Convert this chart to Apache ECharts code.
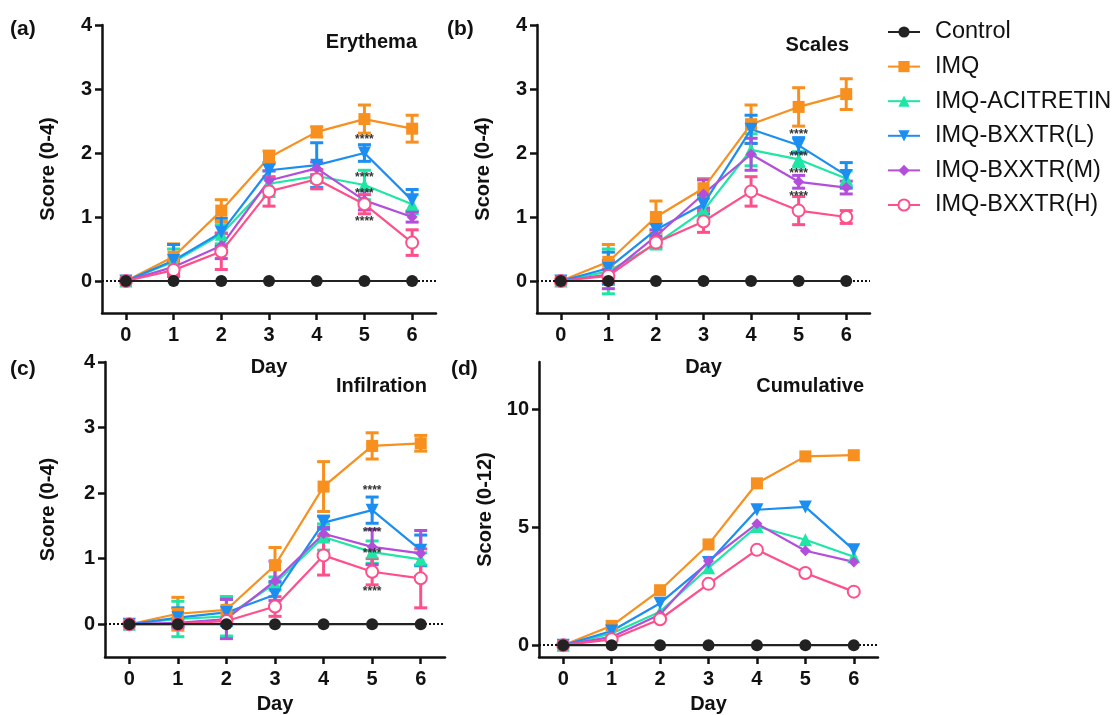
<!DOCTYPE html>
<html>
<head>
<meta charset="utf-8">
<script src="https://cdn.jsdelivr.net/npm/echarts@6/dist/echarts.min.js"></script>
<style>html,body{margin:0;padding:0;background:#fff;}#c{width:1117px;height:715px;}</style>
</head>
<body>
<div id="c"></div>
<script>
// ---------- DATA ----------
const days = [0, 1, 2, 3, 4, 5, 6];
const groups = ['Control', 'IMQ', 'IMQ-ACITRETIN', 'IMQ-BXXTR(L)', 'IMQ-BXXTR(M)', 'IMQ-BXXTR(H)'];

// order of rows: Control, IMQ, ACITRETIN, BXXTR(L), BXXTR(M), BXXTR(H)
const erythemaMean = [
  [0, 0, 0, 0, 0, 0, 0],
  [0, 0.38, 1.10, 1.93, 2.33, 2.53, 2.38],
  [0, 0.30, 0.73, 1.52, 1.64, 1.50, 1.20],
  [0, 0.32, 0.76, 1.73, 1.81, 2.00, 1.26],
  [0, 0.22, 0.55, 1.57, 1.76, 1.26, 1.00],
  [0, 0.17, 0.46, 1.40, 1.59, 1.20, 0.60]
];
const erythemaErr = [
  [0, 0, 0, 0, 0, 0, 0],
  [0, 0.20, 0.17, 0.10, 0.08, 0.22, 0.21],
  [0, 0.20, 0.15, 0.20, 0.10, 0.23, 0.15],
  [0, 0.25, 0.22, 0.12, 0.35, 0.13, 0.17],
  [0, 0.10, 0.20, 0.15, 0.10, 0.15, 0.08],
  [0, 0.10, 0.28, 0.23, 0.15, 0.15, 0.20]
];
const erythemaStars = [2.21, 1.62, 1.36, 0.93];

const scalesMean = [
  [0, 0, 0, 0, 0, 0, 0],
  [0, 0.30, 1.00, 1.45, 2.45, 2.72, 2.92],
  [0, 0.15, 0.58, 1.10, 2.05, 1.90, 1.60],
  [0, 0.20, 0.80, 1.20, 2.37, 2.12, 1.65],
  [0, 0.10, 0.70, 1.36, 1.98, 1.55, 1.46],
  [0, 0.08, 0.60, 0.93, 1.40, 1.10, 1.00]
];
const scalesErr = [
  [0, 0, 0, 0, 0, 0, 0],
  [0, 0.27, 0.25, 0.15, 0.30, 0.30, 0.24],
  [0, 0.35, 0.07, 0.20, 0.25, 0.12, 0.12],
  [0, 0.25, 0.10, 0.15, 0.22, 0.12, 0.20],
  [0, 0.22, 0.10, 0.22, 0.25, 0.10, 0.10],
  [0, 0.10, 0.07, 0.17, 0.23, 0.22, 0.10]
];
const scalesStars = [2.29, 1.95, 1.68, 1.32];

const infiltrationMean = [
  [0, 0, 0, 0, 0, 0, 0],
  [0, 0.16, 0.22, 0.90, 2.10, 2.72, 2.76],
  [0, 0.08, 0.12, 0.62, 1.33, 1.10, 0.99],
  [0, 0.10, 0.18, 0.45, 1.55, 1.74, 1.13],
  [0, 0.02, 0.08, 0.66, 1.38, 1.18, 1.08],
  [0, 0.00, 0.05, 0.27, 1.05, 0.80, 0.70]
];
const infiltrationErr = [
  [0, 0, 0, 0, 0, 0, 0],
  [0, 0.25, 0.20, 0.27, 0.38, 0.20, 0.12],
  [0, 0.27, 0.30, 0.10, 0.20, 0.17, 0.10],
  [0, 0.15, 0.20, 0.20, 0.10, 0.20, 0.23],
  [0, 0.05, 0.30, 0.30, 0.10, 0.27, 0.35],
  [0, 0.00, 0.05, 0.15, 0.30, 0.20, 0.45]
];
const infiltrationStars = [2.03, 1.40, 1.08, 0.50];

const cumulativeMean = [
  [0, 0, 0, 0, 0, 0, 0],
  [0, 0.82, 2.33, 4.27, 6.86, 8.00, 8.05],
  [0, 0.50, 1.42, 3.28, 5.03, 4.47, 3.75],
  [0, 0.60, 1.78, 3.50, 5.74, 5.86, 4.04],
  [0, 0.35, 1.30, 3.57, 5.15, 4.00, 3.53],
  [0, 0.25, 1.10, 2.60, 4.04, 3.06, 2.27]
];

const ticks04 = [0, 1, 2, 3, 4];
const ticks012 = [0, 5, 10];

// ---------- STYLE ----------
const FONT = '"Liberation Sans", Arial, sans-serif';
const colors = ['#222222', '#F7901E', '#1EE6A4', '#1C8EF2', '#B34EDC', '#FF4F8A'];
const symbols = ['circle', 'rect', 'triangle', 'triangle', 'diamond', 'emptyCircle'];
const symRot = [0, 0, 0, 180, 0, 0];
const symSizes = [12, 12, 13, 13, 11, 12];

const panels = [
  { mean: erythemaMean, err: erythemaErr, stars: erythemaStars, yMax: 4, yTicks: ticks04, yName: 'Score (0-4)',
    grid: { left: 102, top: 25, width: 334, height: 288 }, xNameGap: 44, yNameGap: 44 },
  { mean: scalesMean, err: scalesErr, stars: scalesStars, yMax: 4, yTicks: ticks04, yName: 'Score (0-4)',
    grid: { left: 537, top: 25, width: 333, height: 288 }, xNameGap: 44, yNameGap: 44 },
  { mean: infiltrationMean, err: infiltrationErr, stars: infiltrationStars, yMax: 4, yTicks: ticks04, yName: 'Score (0-4)',
    grid: { left: 105, top: 362, width: 340, height: 295 }, xNameGap: 37, yNameGap: 47 },
  { mean: cumulativeMean, err: null, stars: null, yMax: 12, yTicks: ticks012, yName: 'Score (0-12)',
    grid: { left: 539, top: 362, width: 339, height: 295 }, xNameGap: 37, yNameGap: 44 }
];

const axisLineStyle = { color: '#111', width: 2.5 };
const labelStyle = { fontSize: 20, fontWeight: 'bold', color: '#111', fontFamily: FONT };
const nameStyle = { fontSize: 20, fontWeight: 'bold', color: '#111', fontFamily: FONT };

const grids = [], xAxes = [], yAxes = [], series = [];

panels.forEach((p, i) => {
  grids.push(Object.assign({ containLabel: false }, p.grid));
  xAxes.push({
    gridIndex: i, type: 'value', min: -0.5, max: 6.5,
    axisLine: { show: true, onZero: false, lineStyle: axisLineStyle },
    axisTick: { show: true, customValues: days, length: 7, lineStyle: axisLineStyle },
    axisLabel: Object.assign({ customValues: days, margin: 12 }, labelStyle),
    splitLine: { show: false },
    name: 'Day', nameLocation: 'middle', nameGap: p.xNameGap, nameTextStyle: nameStyle
  });
  yAxes.push({
    gridIndex: i, type: 'value', min: -0.5, max: p.yMax,
    axisLine: { show: true, onZero: false, lineStyle: axisLineStyle },
    axisTick: { show: true, customValues: p.yTicks, length: 7, lineStyle: axisLineStyle },
    axisLabel: Object.assign({ customValues: p.yTicks, margin: 10 }, labelStyle),
    splitLine: { show: false },
    name: p.yName, nameLocation: 'middle', nameGap: p.yNameGap, nameTextStyle: nameStyle
  });

  // error bars
  if (p.err) {
    for (let s = 1; s < groups.length; s++) {
      const col = colors[s];
      series.push({
        type: 'custom', name: groups[s] + ' SEM', xAxisIndex: i, yAxisIndex: i, z: 2, silent: true,
        encode: { x: 0, y: 1 },
        data: days.map((d, k) => [d, p.mean[s][k], p.err[s][k]]),
        renderItem: function (params, api) {
          const x = api.value(0), y = api.value(1), e = api.value(2);
          if (!e) return null;
          const t = api.coord([x, y + e]), b = api.coord([x, y - e]);
          const hw = 6.5;
          const st = { stroke: col, lineWidth: 3 };
          return {
            type: 'group', children: [
              { type: 'line', shape: { x1: t[0], y1: t[1], x2: b[0], y2: b[1] }, style: st },
              { type: 'line', shape: { x1: t[0] - hw, y1: t[1], x2: t[0] + hw, y2: t[1] }, style: st },
              { type: 'line', shape: { x1: b[0] - hw, y1: b[1], x2: b[0] + hw, y2: b[1] }, style: st }
            ]
          };
        }
      });
    }
  }

  // lines
  for (let s = 0; s < groups.length; s++) {
    const ser = {
      type: 'line', name: groups[s], xAxisIndex: i, yAxisIndex: i,
      data: days.map((d, k) => [d, p.mean[s][k]]),
      symbol: symbols[s], symbolSize: symSizes[s], symbolRotate: symRot[s],
      showAllSymbol: true,
      lineStyle: { color: colors[s], width: 2.2 },
      itemStyle: { color: colors[s], borderColor: colors[s], borderWidth: s === 5 ? 2.8 : 0 },
      emphasis: { disabled: true },
      z: s === 0 ? 6 : 3
    };
    if (s === 0) {
      ser.markLine = {
        silent: true, symbol: 'none', label: { show: false },
        lineStyle: { color: '#111', type: 'dotted', width: 2 },
        data: [{ yAxis: 0 }]
      };
    }
    series.push(ser);
  }

  // significance asterisks
  if (p.stars) {
    series.push({
      type: 'custom', name: 'stars' + i, xAxisIndex: i, yAxisIndex: i, z: 8, silent: true,
      encode: { x: 0, y: 1 },
      data: p.stars.map(v => [5, v]),
      renderItem: function (params, api) {
        const c = api.coord([api.value(0), api.value(1)]);
        return {
          type: 'text', x: c[0], y: c[1],
          style: { text: '****', fill: '#333', font: 'bold 12px ' + FONT, align: 'center', verticalAlign: 'middle' }
        };
      }
    });
  }
});

const titleStyle = { fontSize: 20, fontWeight: 'bold', color: '#111', fontFamily: FONT };
const tagStyle = { fontSize: 21, fontWeight: 'bold', color: '#111', fontFamily: FONT };

const option = {
  animation: false,
  backgroundColor: '#fff',
  title: [
    { text: 'Erythema', right: 700, top: 32, textStyle: titleStyle, padding: 0 },
    { text: 'Scales', right: 268, top: 35, textStyle: titleStyle, padding: 0 },
    { text: 'Infilration', right: 690, top: 376, textStyle: titleStyle, padding: 0 },
    { text: 'Cumulative', right: 253, top: 376, textStyle: titleStyle, padding: 0 },
    { text: '(a)', left: 10, top: 19, textStyle: tagStyle, padding: 0 },
    { text: '(b)', left: 447, top: 19, textStyle: tagStyle, padding: 0 },
    { text: '(c)', left: 10, top: 359, textStyle: tagStyle, padding: 0 },
    { text: '(d)', left: 451, top: 359, textStyle: tagStyle, padding: 0 }
  ],
  legend: {
    data: groups, orient: 'vertical', left: 887, top: 20,
    itemWidth: 32, itemHeight: 14, itemGap: 10.6, padding: 0,
    selectedMode: false,
    textStyle: { fontSize: 23.5, lineHeight: 24, color: '#111', fontFamily: FONT, padding: [0, 0, 0, 10] }
  },
  grid: grids, xAxis: xAxes, yAxis: yAxes, series: series
};

const chart = echarts.init(document.getElementById('c'), null, { renderer: 'canvas' });
chart.setOption(option);
</script>
</body>
</html>
